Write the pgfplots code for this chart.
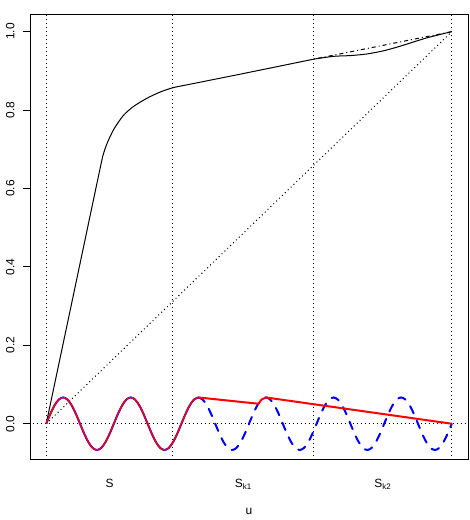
\documentclass[border=0pt]{standalone}
\usepackage{pgfplots}
\pgfplotsset{compat=1.18}
\usepackage{fontspec}
\setmainfont{Liberation Sans}
\definecolor{rred}{RGB}{255,0,0}
\definecolor{rblue}{RGB}{0,0,255}
\begin{document}
\begin{tikzpicture}
\useasboundingbox (0,0) rectangle (470bp,520bp);
\begin{axis}[
  at={(30bp,60bp)}, anchor=south west,
  scale only axis, width=438bp, height=445bp,
  xmin=-0.04, xmax=1.04, ymin=-0.0925, ymax=1.0425,
  axis line style={line width=1bp, black},
  /pgf/number format/assume math mode=true,
  ytick={0,0.2,0.4,0.6,0.8,1.0},
  ytick pos=left, tick align=outside, major tick length=7.2bp,
  y tick style={line width=1bp, black},
  yticklabel style={font=\fontsize{12}{14}\selectfont, inner sep=0pt, xshift=-8bp, rotate=90, anchor=south,
    /pgf/number format/fixed, /pgf/number format/fixed zerofill, /pgf/number format/precision=1},
  xtick={0.15625,0.48625,0.83},
  xticklabels={S, S\textsubscript{k1}, S\textsubscript{k2}},
  x tick style={draw=none},
  xticklabel style={font=\fontsize{12}{14}\selectfont, inner sep=0pt, anchor=north, yshift=-12bp},
  xlabel={u},
  every axis x label/.style={at={(axis description cs:0.5,0)}, anchor=base, yshift=-55bp, font=\fontsize{12}{14}\selectfont},
  clip=true,
]
% reference dotted lines
\addplot[black, line width=1bp, dash pattern=on 1bp off 3bp] coordinates {(0,-1) (0,2)};
\addplot[black, line width=1bp, dash pattern=on 1bp off 3bp] coordinates {(0.3125,-1) (0.3125,2)};
\addplot[black, line width=1bp, dash pattern=on 1bp off 3bp] coordinates {(0.66,-1) (0.66,2)};
\addplot[black, line width=1bp, dash pattern=on 1bp off 3bp] coordinates {(1,-1) (1,2)};
\addplot[black, line width=1bp, dash pattern=on 1bp off 3bp] coordinates {(-1,0) (2,0)};
% diagonal
\addplot[black, line width=1bp, dash pattern=on 1bp off 3bp] coordinates {(0,0) (1,1)};
% black solid curve
\addplot[black, line width=1bp, smooth, tension=0.45] coordinates {
(0,0) (0.066,0.3234) (0.133,0.652) (0.141,0.688) (0.1497,0.714) (0.166,0.750)
(0.19,0.786) (0.215,0.809) (0.248,0.830) (0.281,0.846) (0.3125,0.857) (0.35,0.865) (0.49,0.894) (0.66,0.930)};
\addplot[black, line width=1bp, smooth, tension=0.5] coordinates {
(0.66,0.930) (0.708,0.937) (0.750,0.939) (0.790,0.943) (0.831,0.951) (0.873,0.963) (0.938,0.984) (1,1)};
% dash-dot
\addplot[black, line width=1bp, dash pattern=on 1bp off 3bp on 4bp off 3bp] coordinates {(0.66,0.930) (1,1)};
% blue solid sine
\addplot[rblue, line width=2bp, smooth] coordinates {
(0,0) (0.010417,0.02564) (0.020833,0.04738) (0.03125,0.0619) (0.041667,0.067) (0.052083,0.0619) (0.0625,0.04738) (0.072917,0.02564)
(0.083333,0) (0.09375,-0.02564) (0.104167,-0.04738) (0.114583,-0.0619) (0.125,-0.067) (0.135417,-0.0619) (0.145833,-0.04738) (0.15625,-0.02564)
(0.166667,0) (0.177083,0.02564) (0.1875,0.04738) (0.197917,0.0619) (0.208333,0.067) (0.21875,0.0619) (0.229167,0.04738) (0.239583,0.02564)
(0.25,0) (0.260417,-0.02564) (0.270833,-0.04738) (0.28125,-0.0619) (0.291667,-0.067) (0.302083,-0.0619) (0.3125,-0.04738) (0.322917,-0.02564)
(0.333333,0) (0.34375,0.02564) (0.354167,0.04738) (0.364583,0.0619) (0.375,0.067)};
% blue dashed sine
\addplot[rblue, line width=2bp, smooth, dash pattern=on 8bp off 8bp, line cap=round] coordinates {
(0.375,0.067) (0.385417,0.0619) (0.395833,0.04738) (0.40625,0.02564)
(0.416667,0) (0.427083,-0.02564) (0.4375,-0.04738) (0.447917,-0.0619) (0.458333,-0.067) (0.46875,-0.0619) (0.479167,-0.04738) (0.489583,-0.02564)
(0.5,0) (0.510417,0.02564) (0.520833,0.04738) (0.53125,0.0619) (0.541667,0.067) (0.552083,0.0619) (0.5625,0.04738) (0.572917,0.02564)
(0.583333,0) (0.59375,-0.02564) (0.604167,-0.04738) (0.614583,-0.0619) (0.625,-0.067) (0.635417,-0.0619) (0.645833,-0.04738) (0.65625,-0.02564)
(0.666667,0) (0.677083,0.02564) (0.6875,0.04738) (0.697917,0.0619) (0.708333,0.067) (0.71875,0.0619) (0.729167,0.04738) (0.739583,0.02564)
(0.75,0) (0.760417,-0.02564) (0.770833,-0.04738) (0.78125,-0.0619) (0.791667,-0.067) (0.802083,-0.0619) (0.8125,-0.04738) (0.822917,-0.02564)
(0.833333,0) (0.84375,0.02564) (0.854167,0.04738) (0.864583,0.0619) (0.875,0.067) (0.885417,0.0619) (0.895833,0.04738) (0.90625,0.02564)
(0.916667,0) (0.927083,-0.02564) (0.9375,-0.04738) (0.947917,-0.0619) (0.958333,-0.067) (0.96875,-0.0619) (0.979167,-0.04738) (0.989583,-0.02564)
(1,0)};
% red
\addplot[rred, line width=1.4bp, smooth] coordinates {
(0,0) (0.010417,0.02564) (0.020833,0.04738) (0.03125,0.0619) (0.041667,0.067) (0.052083,0.0619) (0.0625,0.04738) (0.072917,0.02564)
(0.083333,0) (0.09375,-0.02564) (0.104167,-0.04738) (0.114583,-0.0619) (0.125,-0.067) (0.135417,-0.0619) (0.145833,-0.04738) (0.15625,-0.02564)
(0.166667,0) (0.177083,0.02564) (0.1875,0.04738) (0.197917,0.0619) (0.208333,0.067) (0.21875,0.0619) (0.229167,0.04738) (0.239583,0.02564)
(0.25,0) (0.260417,-0.02564) (0.270833,-0.04738) (0.28125,-0.0619) (0.291667,-0.067) (0.302083,-0.0619) (0.3125,-0.04738) (0.322917,-0.02564)
(0.333333,0) (0.34375,0.02564) (0.354167,0.04738) (0.364583,0.0619) (0.375,0.067)};
\addplot[rred, line width=2bp] coordinates {
(0.375,0.067) (0.523,0.051) (0.53125,0.0619) (0.541667,0.067) (1,0)};
\end{axis}
\end{tikzpicture}
\end{document}
